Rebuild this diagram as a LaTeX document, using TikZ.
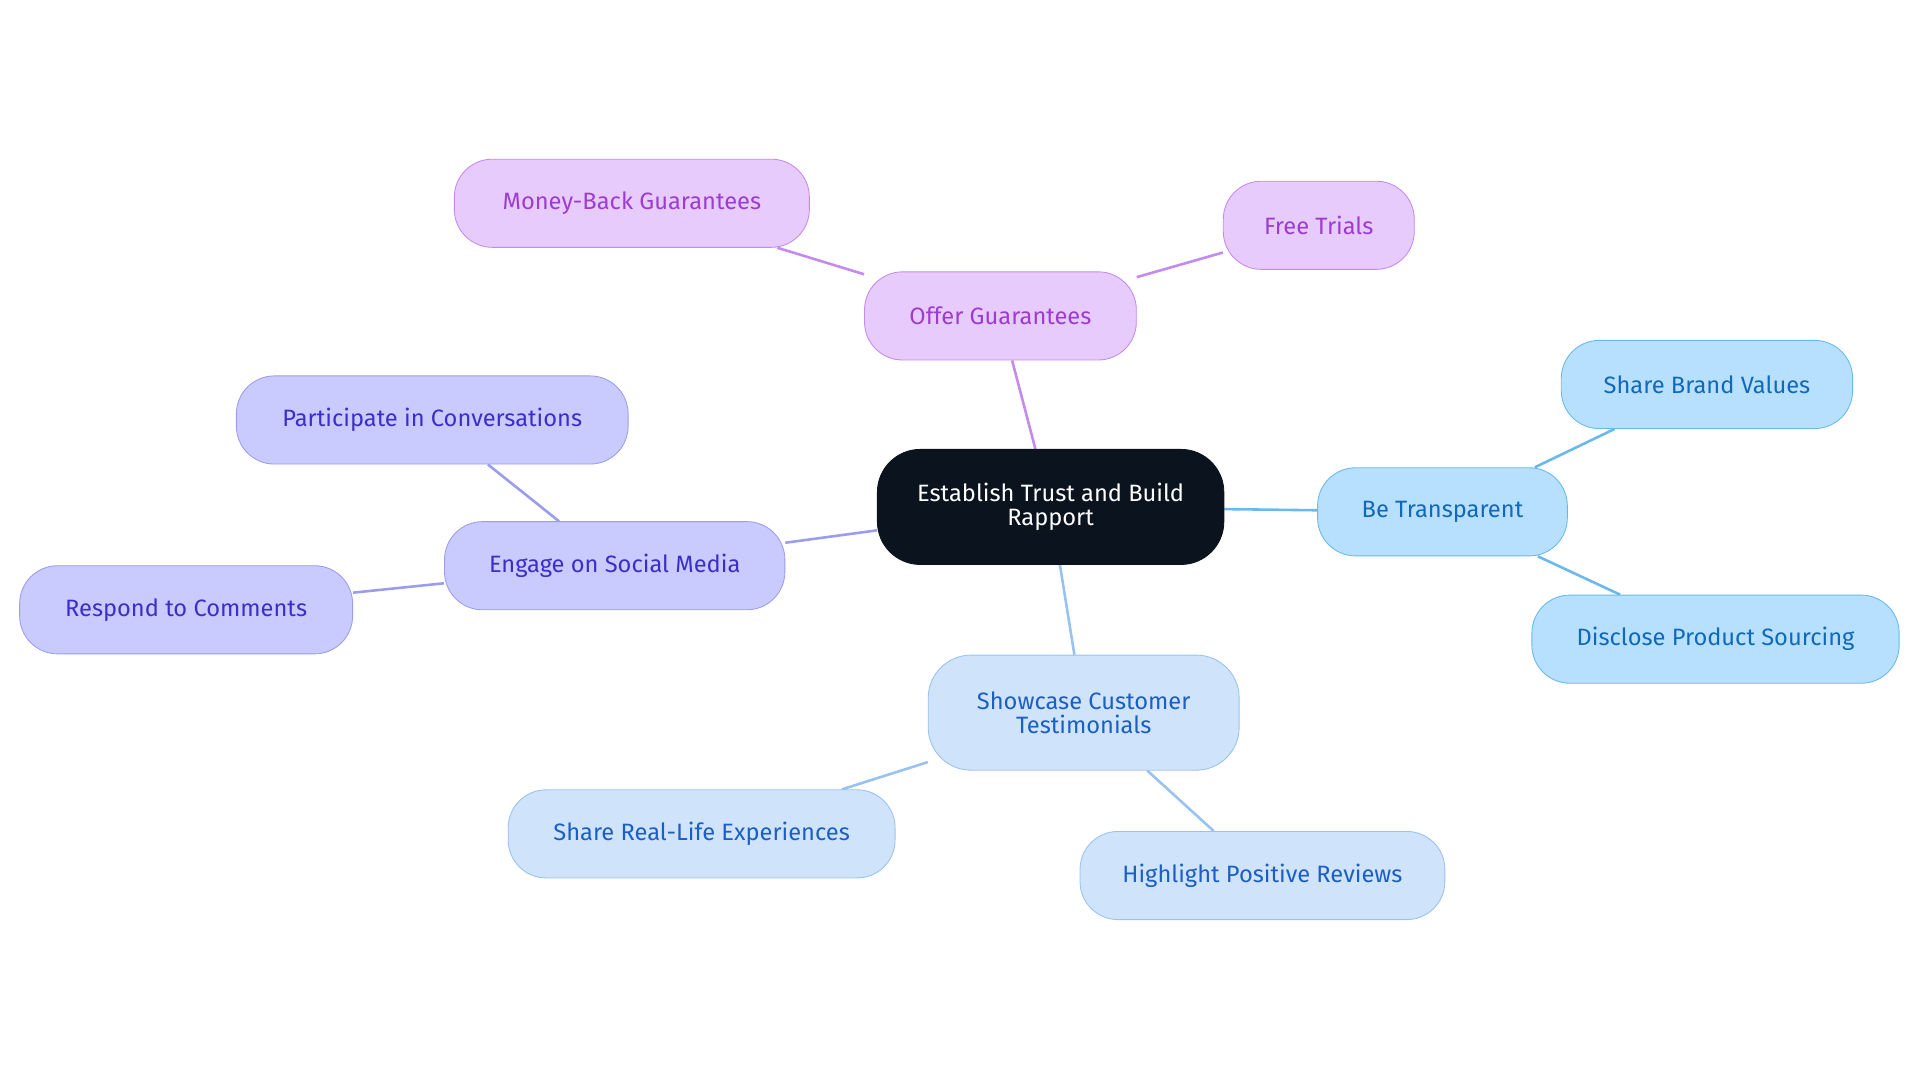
\documentclass[tikz,border=0pt]{standalone}
\usepackage{fontspec}
\setmainfont{Fira Sans}
\usetikzlibrary{backgrounds}
\definecolor{rootf}{HTML}{0B131E}
\definecolor{pf}{HTML}{E8CBFD}\definecolor{pd}{HTML}{C58AF0}\definecolor{pt}{HTML}{9B3DD0}
\definecolor{vf}{HTML}{C9CAFD}\definecolor{vd}{HTML}{9B9CF0}\definecolor{vt}{HTML}{3B2FC9}
\definecolor{bf}{HTML}{B6E0FD}\definecolor{bd}{HTML}{6AB8EE}\definecolor{bt}{HTML}{1369B8}
\definecolor{cf}{HTML}{CFE3FB}\definecolor{cd}{HTML}{98C2F0}\definecolor{ct}{HTML}{1C5FC4}
\tikzset{
 base/.style={rounded corners=0.62cm,minimum height=1.44cm,align=center,font=\fontsize{11}{11}\selectfont,inner sep=2pt},
 pnode/.style={base,fill=pf,draw=pd,text=pt},
 vnode/.style={base,fill=vf,draw=vd,text=vt},
 bnode/.style={base,fill=bf,draw=bd,text=bt},
 cnode/.style={base,fill=cf,draw=cd,text=ct},
 pe/.style={draw=pd,line width=1.2pt},
 ve/.style={draw=vd,line width=1.2pt},
 be/.style={draw=bd,line width=1.2pt},
 ce/.style={draw=cd,line width=1.2pt},
}
\begin{document}
\begin{tikzpicture}[x=0.02cm,y=-0.02cm]
\useasboundingbox (0,0) rectangle (1568,884);
\node[base,fill=rootf,draw=rootf,text=white,minimum width=5.66cm,minimum height=1.88cm,rounded corners=0.7cm] (root) at (858,414) {Establish Trust and Build\\Rapport};
\node[pnode,minimum width=4.44cm] (og) at (817,258) {Offer Guarantees};
\node[pnode,minimum width=5.8cm] (mb) at (516,166) {Money-Back Guarantees};
\node[pnode,minimum width=3.12cm] (ft) at (1077,184) {Free Trials};
\node[vnode,minimum width=5.56cm] (es) at (502,462) {Engage on Social Media};
\node[vnode,minimum width=6.4cm] (pc) at (353,343) {Participate in Conversations};
\node[vnode,minimum width=5.44cm] (rc) at (152,498) {Respond to Comments};
\node[bnode,minimum width=4.08cm] (bt) at (1178,418) {Be Transparent};
\node[bnode,minimum width=4.76cm] (sb) at (1394,314) {Share Brand Values};
\node[bnode,minimum width=6cm] (dp) at (1401,522) {Disclose Product Sourcing};
\node[cnode,minimum width=5.08cm,minimum height=1.88cm,rounded corners=0.7cm] (sc) at (885,582) {Showcase Customer\\Testimonials};
\node[cnode,minimum width=6.32cm] (sr) at (573,681) {Share Real-Life Experiences};
\node[cnode,minimum width=5.96cm] (hp) at (1031,715) {Highlight Positive Reviews};
\begin{pgfonlayer}{background}
\draw[pe] (root) -- (og); \draw[pe] (og) -- (mb); \draw[pe] (og) -- (ft);
\draw[ve] (root) -- (es); \draw[ve] (es) -- (pc); \draw[ve] (es) -- (rc);
\draw[be] (root) -- (bt); \draw[be] (bt) -- (sb); \draw[be] (bt) -- (dp);
\draw[ce] (root) -- (sc); \draw[ce] (sc) -- (sr); \draw[ce] (sc) -- (hp);
\end{pgfonlayer}
\end{tikzpicture}
\end{document}
